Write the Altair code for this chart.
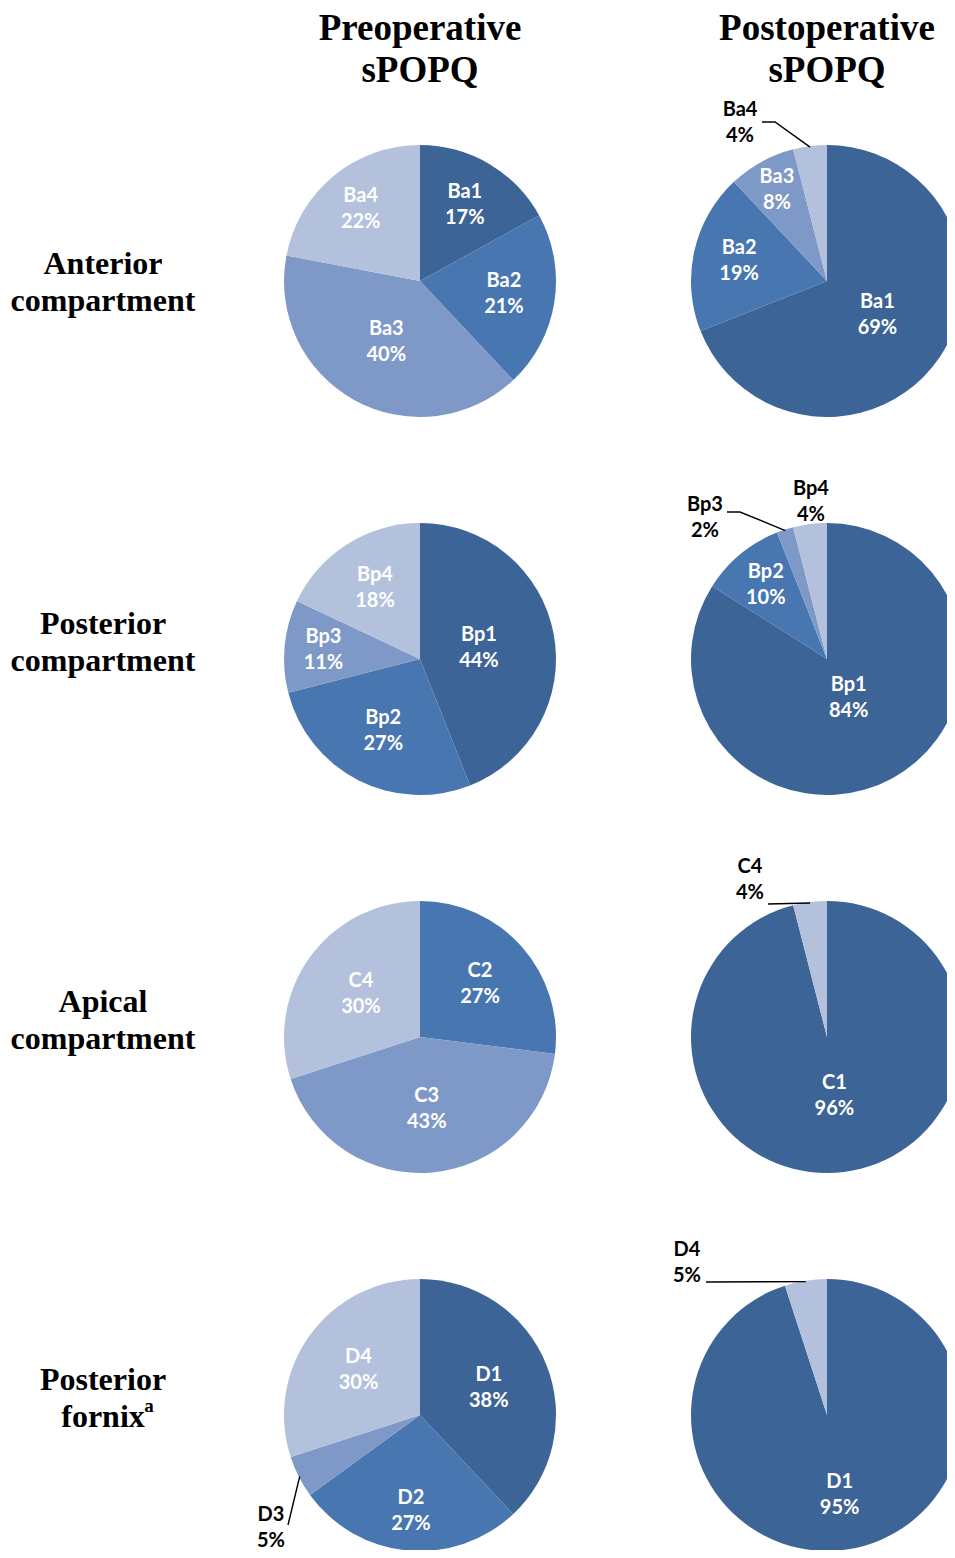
import altair as alt
import pandas as pd
import numpy as np

# ---------------- data ----------------
col_titles = ["Preoperative\nsPOPQ", "Postoperative\nsPOPQ"]
row_titles = ["Anterior\ncompartment", "Posterior\ncompartment", "Apical\ncompartment", "Posterior\nfornix"]
grade_labels = [["Ba1", "Ba2", "Ba3", "Ba4"],
                ["Bp1", "Bp2", "Bp3", "Bp4"],
                ["C1", "C2", "C3", "C4"],
                ["D1", "D2", "D3", "D4"]]
pre_values = [[17, 21, 40, 22],
              [44, 27, 11, 18],
              [0, 27, 43, 30],
              [38, 27, 5, 30]]
post_values = [[69, 19, 8, 4],
               [84, 10, 2, 4],
               [96, 0, 0, 4],
               [95, 0, 0, 5]]
stages = ["pre", "post"]

# ---------------- style / layout ----------------
colors = ["#3D6496", "#4876B0", "#7E99C7", "#B3C1DC"]
col_x = [420, 827]
row_y = [281, 659, 1037, 1415]
row_title_x = 103
row_title_y = [282, 642, 1020, 1398]
title_y = 50
R = 136
# label distance from centre for inside labels (like Excel label placement)
label_r = {
    ("pre", "Ba1"): 88, ("pre", "Ba2"): 85, ("pre", "Ba3"): 70, ("pre", "Ba4"): 93,
    ("post", "Ba1"): 61, ("post", "Ba2"): 90, ("post", "Ba3"): 104,
    ("pre", "Bp1"): 60, ("pre", "Bp2"): 81, ("pre", "Bp3"): 97, ("pre", "Bp4"): 84,
    ("post", "Bp1"): 45, ("post", "Bp2"): 96,
    ("pre", "C2"): 80, ("pre", "C3"): 72, ("pre", "C4"): 73,
    ("post", "C1"): 59,
    ("pre", "D1"): 74, ("pre", "D2"): 96, ("pre", "D4"): 76,
    ("post", "D1"): 81,
}
# outside labels: text offset from centre, leader line start points (offsets)
outside = {
    ("post", "Ba4"): ((-87, -158), [(-65, -159), (-52, -159)]),
    ("post", "Bp3"): ((-122, -141), [(-100, -147), (-87, -147)]),
    ("post", "Bp4"): ((-16, -157), []),
    ("post", "C4"): ((-77, -157), [(-59, -133)]),
    ("post", "D4"): ((-140, -152), [(-121, -133)]),
    ("pre", "D3"): ((-149, 113), [(-132, 110)]),
}

# ---------------- build tables ----------------
slices, inner, outer, lines = [], [], [], []
for i in range(4):
    for j, stage in enumerate(stages):
        vals = pre_values[i] if stage == "pre" else post_values[i]
        cx, cy = col_x[j], row_y[i]
        start = 0
        for k, v in enumerate(vals):
            lab = grade_labels[i][k]
            end = start + v
            if v > 0:
                mid = (start + end) / 2
                slices.append(dict(cx=cx, cy=cy, start=start, end=end, grade=k + 1))
                text = f"{lab}\n{v}%"
                if (stage, lab) in outside:
                    (dx, dy), pts = outside[(stage, lab)]
                    outer.append(dict(x=cx + dx, y=cy + dy, text=text))
                    if pts:
                        ang = mid / 100 * 2 * np.pi
                        lid = f"{stage}-{lab}"
                        for s, (px, py) in enumerate(pts):
                            lines.append(dict(id=lid, seq=s, x=cx + px, y=cy + py))
                        lines.append(dict(id=lid, seq=len(pts),
                                          x=cx + (R - 1) * np.sin(ang),
                                          y=cy - (R - 1) * np.cos(ang)))
                else:
                    inner.append(dict(cx=cx, cy=cy, mid=mid,
                                      lr=label_r[(stage, lab)], text=text))
            start = end

slices = pd.DataFrame(slices)
inner = pd.DataFrame(inner)
outer = pd.DataFrame(outer)
lines = pd.DataFrame(lines)
titles = pd.DataFrame(dict(x=col_x, y=[title_y] * 2, text=col_titles))
rows = pd.DataFrame(dict(x=[row_title_x] * 4, y=row_title_y, text=row_titles))
sup = pd.DataFrame(dict(x=[row_title_x + 46], y=[row_title_y[3] + 8], text=["a"]))

W, H = 939, 1542
xs = alt.Scale(domain=[8, 8 + W], range=[0, W], nice=False, zero=False)
ys = alt.Scale(domain=[8, 8 + H], range=[0, H], nice=False, zero=False)
ts = alt.Scale(domain=[0, 100], range=[0, 2 * np.pi])

LBL_LH = 26
pies = alt.Chart(slices).mark_arc(radius=R).encode(
    x=alt.X("cx:Q", scale=xs, axis=None),
    y=alt.Y("cy:Q", scale=ys, axis=None),
    theta=alt.Theta("start:Q", scale=ts),
    theta2="end:Q",
    color=alt.Color("grade:O", scale=alt.Scale(domain=[1, 2, 3, 4], range=colors), legend=None),
)

inner_txt = alt.Chart(inner).mark_text(
    font="Lato", fontWeight="bold", fontSize=20, color="white",
    lineBreak="\n", lineHeight=LBL_LH, dy=-LBL_LH / 2, align="center", baseline="middle",
).encode(
    x=alt.X("cx:Q", scale=xs, axis=None),
    y=alt.Y("cy:Q", scale=ys, axis=None),
    theta=alt.Theta("mid:Q", scale=ts),
    radius=alt.Radius("lr:Q", scale=None),
    text="text:N",
)

outer_txt = alt.Chart(outer).mark_text(
    font="Lato", fontWeight="bold", fontSize=20, color="black",
    lineBreak="\n", lineHeight=LBL_LH, dy=-LBL_LH / 2, align="center", baseline="middle",
).encode(
    x=alt.X("x:Q", scale=xs, axis=None),
    y=alt.Y("y:Q", scale=ys, axis=None),
    text="text:N",
)

leaders = alt.Chart(lines).mark_line(color="black", strokeWidth=1.4).encode(
    x=alt.X("x:Q", scale=xs, axis=None),
    y=alt.Y("y:Q", scale=ys, axis=None),
    detail="id:N",
    order="seq:Q",
)

col_txt = alt.Chart(titles).mark_text(
    font="Liberation Serif", fontWeight="bold", fontSize=37, color="black",
    lineBreak="\n", lineHeight=42, dy=-21, align="center", baseline="middle",
).encode(
    x=alt.X("x:Q", scale=xs, axis=None),
    y=alt.Y("y:Q", scale=ys, axis=None),
    text="text:N",
)

row_txt = alt.Chart(rows).mark_text(
    font="Liberation Serif", fontWeight="bold", fontSize=32, color="black",
    lineBreak="\n", lineHeight=37, dy=-18.5, align="center", baseline="middle",
).encode(
    x=alt.X("x:Q", scale=xs, axis=None),
    y=alt.Y("y:Q", scale=ys, axis=None),
    text="text:N",
)

sup_txt = alt.Chart(sup).mark_text(
    font="Liberation Serif", fontWeight="bold", fontSize=19, color="black",
    align="center", baseline="middle",
).encode(
    x=alt.X("x:Q", scale=xs, axis=None),
    y=alt.Y("y:Q", scale=ys, axis=None),
    text="text:N",
)

chart = alt.layer(pies, leaders, inner_txt, outer_txt, col_txt, row_txt, sup_txt).properties(
    width=W, height=H, padding=0,
    autosize=alt.AutoSizeParams(type="none"),
    background="white",
).configure_view(strokeWidth=0)

chart.save("out.html", embed_options={"renderer": "svg", "actions": False})
